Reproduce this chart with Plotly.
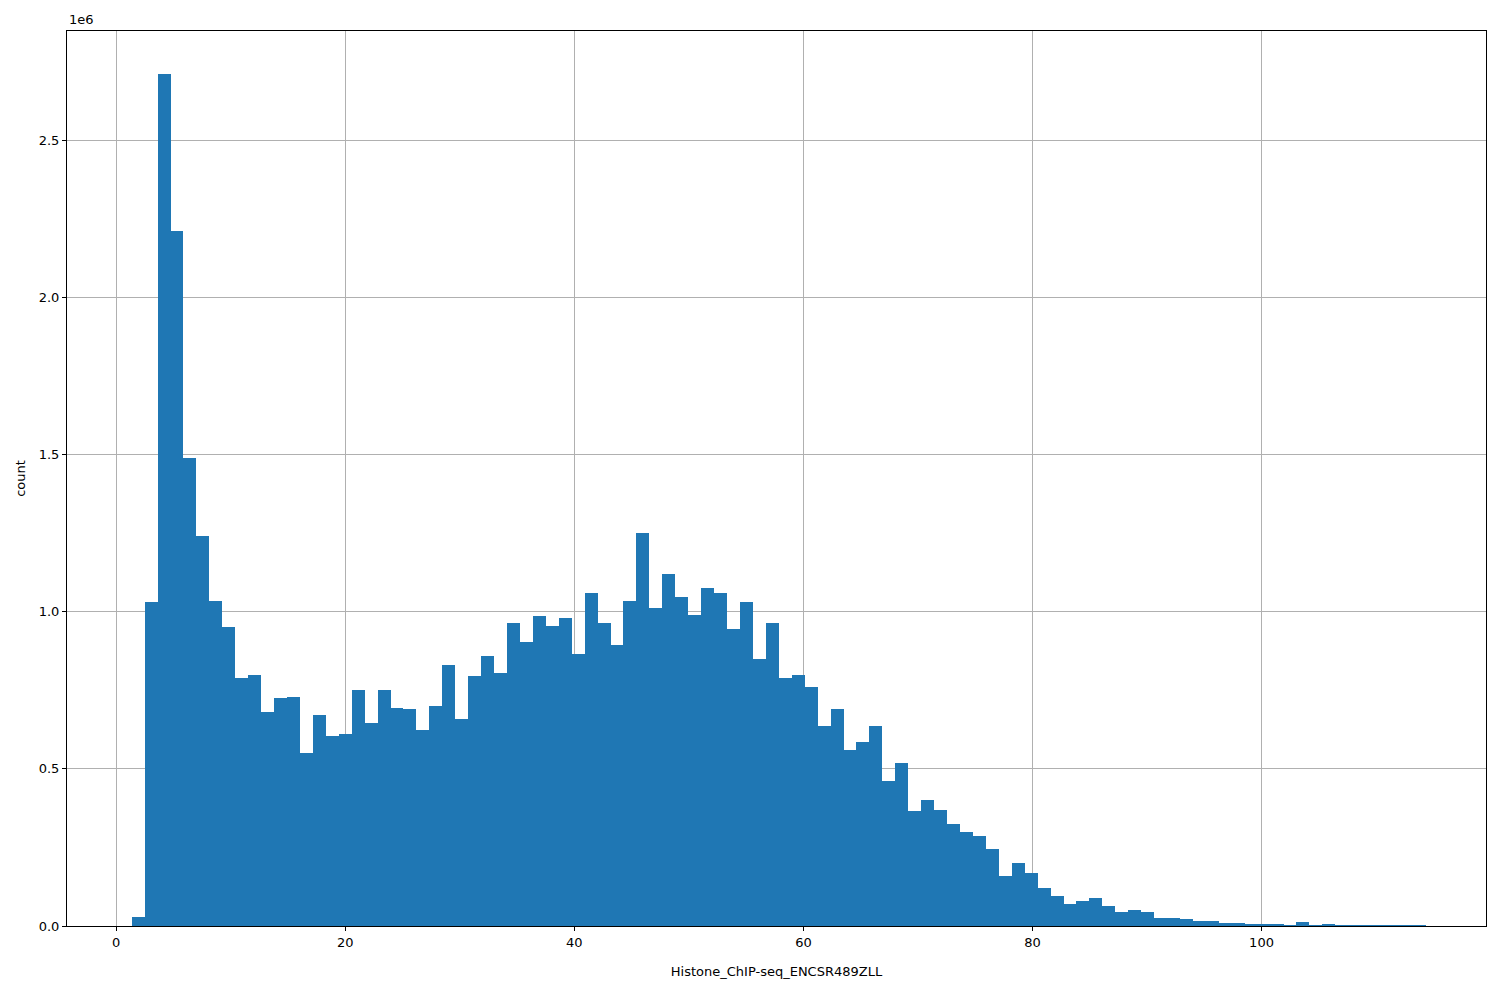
import plotly.graph_objects as go

bin_start = 1.35
bin_width = 1.13
counts_m = [0.03, 1.03, 2.71, 2.21, 1.49, 1.24, 1.035, 0.95, 0.79, 0.80,
            0.68, 0.725, 0.73, 0.55, 0.67, 0.605, 0.61, 0.75, 0.645, 0.75,
            0.695, 0.69, 0.625, 0.70, 0.83, 0.66, 0.795, 0.86, 0.805, 0.965,
            0.905, 0.985, 0.955, 0.98, 0.865, 1.06, 0.965, 0.895, 1.035, 1.25,
            1.01, 1.12, 1.045, 0.99, 1.075, 1.06, 0.945, 1.03, 0.85, 0.965,
            0.79, 0.80, 0.76, 0.635, 0.69, 0.56, 0.585, 0.635, 0.46, 0.52,
            0.365, 0.40, 0.37, 0.325, 0.30, 0.285, 0.245, 0.16, 0.20, 0.17,
            0.12, 0.095, 0.07, 0.08, 0.09, 0.065, 0.045, 0.05, 0.045, 0.025,
            0.025, 0.022, 0.017, 0.016, 0.01, 0.01, 0.005, 0.004, 0.007, 0.003,
            0.013, 0.002, 0.004, 0.003, 0.001, 0.003, 0.001, 0.001, 0.001, 0.001]
x_ticks = [0, 20, 40, 60, 80, 100]

centers = [bin_start + bin_width * (i + 0.5) for i in range(len(counts_m))]
counts = [c * 1e6 for c in counts_m]

fig = go.Figure(go.Bar(x=centers, y=counts, width=bin_width,
                       marker=dict(color="#1f77b4", line=dict(width=0))))

axis = dict(showgrid=True, gridcolor="#b0b0b0", gridwidth=1, zeroline=False,
            showline=True, linecolor="black", mirror=True, ticks="outside",
            ticklen=4, tickcolor="black", tickfont=dict(size=13, color="black"),
            automargin=False)
fig.update_xaxes(**axis, range=[-4.3, 119.6], tickvals=x_ticks,
                 title=dict(text="Histone_ChIP-seq_ENCSR489ZLL", standoff=18,
                            font=dict(size=13, color="black")))
fig.update_yaxes(**axis, range=[0, 2.847e6], tickvals=[0, 0.5e6, 1e6, 1.5e6, 2e6, 2.5e6],
                 ticktext=["0.0", "0.5", "1.0", "1.5", "2.0", "2.5"],
                 title=dict(text="count", standoff=10, font=dict(size=13, color="black")))
fig.add_annotation(text="1e6", x=0, y=1, xref="paper", yref="paper",
                   xanchor="left", yanchor="bottom", showarrow=False,
                   font=dict(size=13, color="black"), yshift=2)
fig.update_layout(width=1500, height=1000, plot_bgcolor="white", paper_bgcolor="white",
                  margin=dict(l=59, r=22, t=23, b=82), bargap=0, showlegend=False,
                  font=dict(family="DejaVu Sans"))
fig.write_html("out.html")
